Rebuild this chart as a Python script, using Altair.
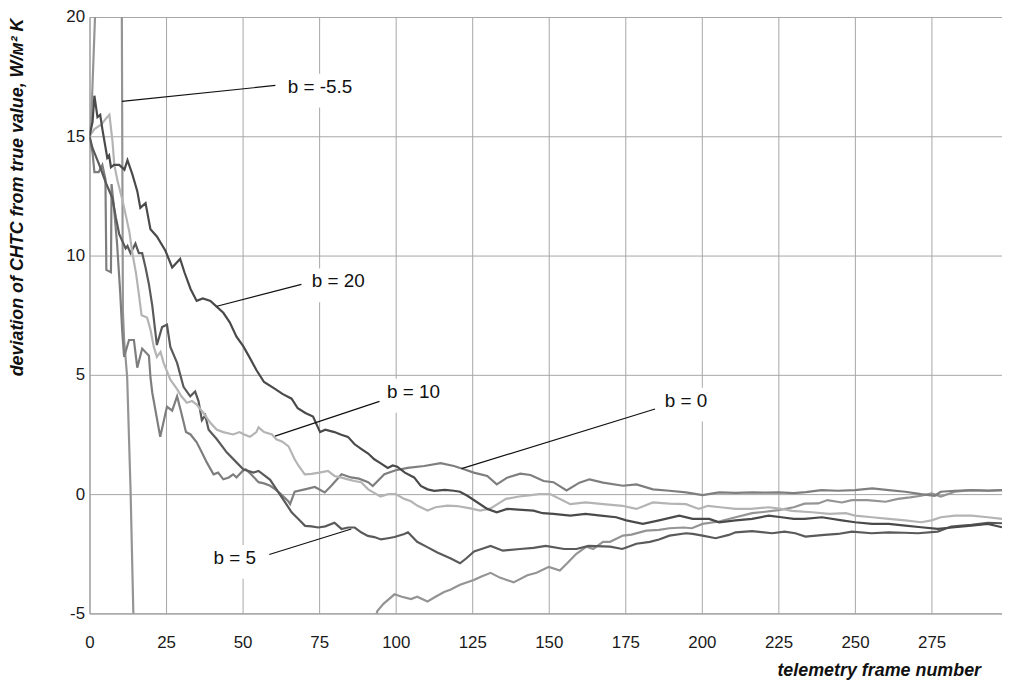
import altair as alt
import pandas as pd

# ---- data (x = telemetry frame, y = deviation) ----
B20_X = [0, 1, 1.6, 2.6, 3.5, 4.2, 5.8, 6.4, 7, 8, 9.7, 11.4, 12.4, 14, 15.6, 16.6, 18.3, 19.9, 22, 24.8,
         27, 29.6, 31, 33, 35, 37, 39.5, 41.6, 43.7, 45.8, 48, 50.2, 52.4, 54.5, 57, 60.7, 63, 66, 68, 70.5,
         73, 75.3, 77, 80, 82, 84.4, 86.5, 88.7, 91, 93, 95, 97.4, 99, 100.5, 103, 106, 108.2, 110.4, 112.6, 116,
         119, 121, 123.4, 126.6, 129.9, 133, 136.4, 140, 145, 148, 151.5, 157, 162, 167, 172, 175.3, 180.7, 186,
         192.6, 197, 202.4, 205.6, 211, 216.4, 221.8, 226, 230, 233.5, 239.2, 245.7, 250, 255.6, 261, 266.4,
         271.6, 277, 282.6, 288, 293.4, 298]
B20_Y = [15.0, 15.6, 16.7, 15.8, 15.9, 15.3, 14.1, 14.2, 13.7, 13.8, 13.8, 13.6, 14.0, 13.4, 12.7, 12.0, 12.2, 11.1, 10.8, 10.2,
         9.5, 9.86, 9.3, 8.6, 8.1, 8.2, 8.1, 7.85, 7.6, 7.2, 6.6, 6.2, 5.7, 5.2, 4.7, 4.4, 4.2, 4.0, 3.6, 3.4,
         3.25, 2.6, 2.7, 2.6, 2.5, 2.4, 2.1, 1.9, 1.7, 1.46, 1.3, 1.1, 1.2, 1.15, 0.9, 0.7, 0.34, 0.2, 0.14, 0.18,
         0.14, 0.1, -0.07, -0.34, -0.62, -0.76, -0.62, -0.65, -0.69, -0.8, -0.83, -0.9, -0.83, -0.9, -0.97, -1.1, -1.25, -1.1,
         -0.9, -1.04, -1.04, -1.18, -1.1, -1.04, -0.9, -0.97, -1.04, -1.04, -0.97, -1.1, -1.18, -1.25, -1.25, -1.32,
         -1.39, -1.46, -1.39, -1.32, -1.25, -1.39]

B10_X = [0, 1.6, 3.9, 5.4, 6.5, 7.5, 8.1, 9.2, 10.8, 12, 13, 14, 15.2, 16.2, 17, 18.8, 19.9, 21, 22, 23.2,
         24.2, 26.4, 28.6, 30, 31.8, 33.5, 35, 37.2, 39.4, 41.6, 43.7, 46.9, 49, 50.5, 52.4, 54.5, 55.2, 57, 59.6, 61,
         63, 65, 67, 68.2, 70.3, 72.5, 75, 77.9, 80, 82, 84.4, 86.5, 88.7, 91, 93, 95, 97.5, 100, 102.8, 105,
         107, 110.4, 113, 116.9, 120, 124.4, 127.6, 131, 133.5, 136, 140.3, 143.5, 146.8, 150.4, 154.8, 157, 162, 167.8, 174, 178.6,
         184, 189.4, 194.8, 199, 202, 206, 211, 216, 221.8, 226, 229.4, 236, 241.6, 247, 250, 255.6, 261, 266.4, 271.6, 275,
         278, 282.6, 288, 293.4, 298]
B10_Y = [15.0, 15.3, 15.5, 15.75, 15.9, 14.8, 13.8, 13.1, 12.3, 11.6, 11.0, 10.1, 9.25, 8.3, 7.5, 7.4, 6.9, 6.17, 5.75, 5.96,
         5.5, 4.8, 4.4, 4.1, 3.83, 3.9, 3.75, 3.4, 3.0, 2.7, 2.6, 2.5, 2.6, 2.5, 2.4, 2.6, 2.8, 2.6, 2.5, 2.3,
         2.2, 2.0, 1.46, 1.2, 0.83, 0.85, 0.9, 0.97, 0.76, 0.7, 0.62, 0.55, 0.5, 0.2, 0.05, -0.1, 0.0, 0.0, -0.2, -0.3,
         -0.48, -0.69, -0.55, -0.48, -0.5, -0.6, -0.69, -0.6, -0.4, -0.2, -0.1, -0.05, 0.0, 0.0, -0.28, -0.42, -0.35, -0.42, -0.49, -0.62,
         -0.35, -0.4, -0.42, -0.62, -0.49, -0.55, -0.62, -0.62, -0.55, -0.62, -0.7, -0.76, -0.83, -0.8, -0.9, -0.97, -1.04, -1.1, -1.18, -1.1,
         -0.97, -0.9, -0.9, -0.97, -1.04]

B5_X = [0, 1, 3.2, 5.5, 7.5, 8.6, 9.7, 11.8, 12.4, 13.4, 15, 16.1, 17.2, 18.3, 19.4, 20.5, 22, 23.7, 25.3, 26.4,
        28.6, 30.7, 32.9, 34.5, 35.6, 36.7, 37.8, 38.9, 41.6, 44.8, 48, 50.2, 53.5, 55.2, 57, 59, 61.7, 63.9, 66, 68.2,
        70.4, 72.5, 74.7, 77, 80, 82.3, 84.5, 86.6, 88.7, 90.9, 93, 95.2, 97.5, 99.6, 102.8, 104, 107, 110, 113.6, 118,
        121, 123, 125.6, 128, 131, 135, 140.6, 145, 149, 155, 159, 163, 170, 174, 178.6, 183, 186, 189.4, 194.8, 197,
        200.2, 204.5, 208.8, 211, 216.4, 222.9, 227, 230.5, 233.8, 240, 244.4, 249, 255.4, 261, 266, 270.6, 277, 281.4, 285, 288,
        293.4, 298]
B5_Y = [15.0, 14.5, 13.8, 13.0, 12.4, 11.6, 10.9, 10.3, 10.4, 10.1, 10.5, 10.1, 10.1, 9.5, 8.8, 7.9, 6.25, 7.0, 7.1, 6.17,
        5.5, 4.5, 4.1, 4.3, 3.9, 3.1, 3.3, 2.7, 2.3, 1.75, 1.33, 1.04, 0.9, 0.97, 0.8, 0.6, 0.07, -0.35, -0.76, -1.04,
        -1.33, -1.35, -1.4, -1.35, -1.2, -1.46, -1.4, -1.4, -1.6, -1.75, -1.8, -1.9, -1.85, -1.8, -1.67, -1.6, -2.0, -2.2, -2.45, -2.7,
        -2.9, -2.7, -2.4, -2.3, -2.17, -2.37, -2.3, -2.25, -2.17, -2.3, -2.3, -2.17, -2.2, -2.3, -2.08, -2.0, -1.9, -1.74, -1.64, -1.67,
        -1.74, -1.85, -1.71, -1.6, -1.55, -1.64, -1.57, -1.64, -1.78, -1.71, -1.67, -1.57, -1.64, -1.6, -1.62, -1.64, -1.57, -1.36, -1.32, -1.29,
        -1.2, -1.22]

B0_X = [0, 1, 1.6, 3, 4.2, 5.2, 5.5, 7, 7.2, 8, 9, 10, 10.7, 11.3, 12.9, 14.5, 15.6, 17.2, 19.4, 19.9,
        20.5, 23.1, 25.3, 27, 28.6, 30, 31.5, 33, 35, 36.5, 38.3, 40.5, 42, 43.7, 45.5, 46.9, 48, 50, 51, 53,
        55.2, 57, 59, 60.7, 62.5, 64.9, 65.5, 67, 70.3, 73.6, 76.8, 78.9, 82.3, 85.4, 88, 91, 92.5, 96.3, 100, 103.9,
        109.3, 114.7, 119, 122.3, 125.5, 129.9, 133, 136.4, 140.7, 144, 148.3, 151.5, 155.8, 160, 163.3, 167.7, 174.2, 178.6, 184, 189.4,
        194.8, 200.2, 205.6, 211, 216.4, 221, 225, 230, 234, 239, 244.4, 250, 255.6, 261, 266.4, 271.6, 276, 278, 282.6, 288,
        293.4, 298]
B0_Y = [15.0, 14.3, 13.5, 13.5, 13.8, 13.2, 9.4, 9.3, 13.0, 12.0, 10.5, 8.5, 6.8, 5.75, 6.46, 6.46, 5.3, 6.1, 5.8, 4.9,
        4.25, 2.4, 3.67, 3.5, 4.1, 3.4, 2.6, 2.5, 2.17, 1.8, 1.33, 0.83, 0.9, 0.62, 0.7, 0.83, 0.7, 0.97, 1.04, 0.8,
        0.5, 0.45, 0.35, 0.2, 0.0, -0.3, -0.42, 0.1, 0.2, 0.3, 0.07, 0.34, 0.83, 0.7, 0.65, 0.5, 0.34, 0.83, 1.0, 1.1,
        1.18, 1.3, 1.18, 1.04, 0.9, 0.76, 0.41, 0.69, 0.86, 0.8, 0.55, 0.5, 0.15, 0.48, 0.62, 0.48, 0.35, 0.41, 0.2, 0.14,
        0.07, -0.04, 0.07, 0.05, 0.07, 0.06, 0.07, 0.04, 0.08, 0.17, 0.14, 0.17, 0.24, 0.17, 0.1, 0.0, -0.07, 0.1, 0.14, 0.17,
        0.14, 0.17]

BM55_X = [0, 0.5, 1, 1.8, 2.5, 4, 6, 8, 10, 10.9, 11.3, 12.3, 13.4, 14.3, 15, 20, 40, 60, 80, 90,
          93.8, 94, 96, 99.6, 102, 105, 107, 110.4, 113, 115.8, 118, 121, 125.5, 128, 131, 134, 138.5, 143, 146, 150,
          153.6, 156, 159, 162.3, 164.5, 167.7, 170, 174.2, 177, 181.8, 186, 189.4, 194, 196.7, 200.2, 205.6, 210, 216.4, 220, 225,
          230, 233.5, 238, 241, 245.7, 249, 254, 260, 264, 268, 271.6, 275, 278, 282.6, 288, 293.4, 298]
BM55_Y = [15.0, 15.5, 17.2, 20.0, 24.0, 30.0, 35.0, 38.0, 40.0, 7.7, 6.46, 4.9, 0.2, -4.9, -8.0, -15.0, -18.0, -14.0, -9.0, -6.5,
          -5.0, -4.9, -4.6, -4.2, -4.3, -4.4, -4.3, -4.5, -4.3, -4.1, -4.0, -3.8, -3.6, -3.45, -3.3, -3.5, -3.7, -3.4, -3.3, -3.05,
          -3.2, -2.9, -2.5, -2.2, -2.3, -2.0, -2.0, -1.74, -1.7, -1.53, -1.5, -1.43, -1.4, -1.43, -1.25, -1.15, -1.0, -0.8, -0.75, -0.67,
          -0.55, -0.4, -0.39, -0.25, -0.35, -0.25, -0.25, -0.32, -0.2, -0.14, -0.07, 0.03, -0.1, 0.1, 0.17, 0.15, 0.17]

SERIES = ["b = -5.5", "b = 0", "b = 5", "b = 10", "b = 20"]
COLORS = ["#949494", "#7e7e7e", "#5a5a5a", "#b4b4b4", "#4a4a4a"]

X_TICKS = [0, 25, 50, 75, 100, 125, 150, 175, 200, 225, 250, 275]
Y_TICKS = [-5, 0, 5, 10, 15, 20]

# annotation labels (data coordinates) and leader lines
LABELS = ["b = -5.5", "b = 20", "b = 10", "b = 0", "b = 5"]
LABEL_X = [75.3, 81.2, 105.8, 194.8, 47.4]
LABEL_Y = [17.08, 8.92, 4.29, 3.92, -2.67]
LEAD_X1 = [10.6, 41.6, 60.6, 121.5, 58.7]
LEAD_Y1 = [16.46, 7.875, 2.43, 1.07, -2.53]
LEAD_X2 = [60.7, 69.2, 94.7, 184.7, 85.5]
LEAD_Y2 = [17.13, 8.79, 3.89, 3.57, -1.46]

# ---- build tables ----
rows = []
for name, xs, ys in [("b = -5.5", BM55_X, BM55_Y), ("b = 0", B0_X, B0_Y), ("b = 5", B5_X, B5_Y),
                     ("b = 10", B10_X, B10_Y), ("b = 20", B20_X, B20_Y)]:
    for i, (xv, yv) in enumerate(zip(xs, ys)):
        rows.append({"series": name, "x": xv, "y": yv, "i": i})
df = pd.DataFrame(rows)

W, H = 918, 600
XMAX = 298
px_x = W / XMAX
px_y = H / 25.0
box_w_px = [80, 64, 64, 54, 54]
box_h_px = 34
ann = pd.DataFrame({
    "label": LABELS, "x": LABEL_X, "y": LABEL_Y,
    "bx1": [cx - w / 2 / px_x for cx, w in zip(LABEL_X, box_w_px)],
    "bx2": [cx + w / 2 / px_x for cx, w in zip(LABEL_X, box_w_px)],
    "by1": [cy - (box_h_px / 2 + 4) / px_y for cy in LABEL_Y],
    "by2": [cy + (box_h_px / 2 - 4) / px_y for cy in LABEL_Y],
})
leads = pd.DataFrame({"x1": LEAD_X1, "y1": LEAD_Y1, "x2": LEAD_X2, "y2": LEAD_Y2})

FONT = "Liberation Sans"
xscale = alt.Scale(domain=[0, XMAX], nice=False, zero=False)
yscale = alt.Scale(domain=[-5, 20], nice=False, zero=False)

x_axis = alt.Axis(values=X_TICKS, title="telemetry frame number", grid=True, ticks=False, tickSize=0,
                  labelPadding=21, labelFontSize=17, labelFont=FONT, labelColor="#1a1a1a",
                  labelExpr="'' + datum.value",
                  titleFont=FONT, titleFontSize=18, titleFontWeight="bold", titleFontStyle="italic",
                  titleColor="#111", titleX=794, titleY=57, titleAlign="center", titleBaseline="middle",
                  domainColor="#a0a0a0", gridColor="#a6a6a6", gridWidth=1, labelFlush=False)
y_axis = alt.Axis(values=Y_TICKS, title="deviation of CHTC from true value, W/м² K", grid=True, ticks=False,
                  tickSize=0, labelPadding=5, labelFontSize=17, labelFont=FONT, labelColor="#1a1a1a",
                  labelExpr="'' + datum.value",
                  titleFont=FONT, titleFontSize=18, titleFontWeight="bold", titleFontStyle="italic",
                  titleColor="#111", titleX=-72, titleY=181, titleAlign="center", titleBaseline="middle",
                  titleAngle=270, domainColor="#a0a0a0", gridColor="#a6a6a6", gridWidth=1, labelFlush=False)

lines = alt.Chart(df).mark_line(clip=True, strokeWidth=2.2).encode(
    x=alt.X("x:Q", scale=xscale, axis=x_axis),
    y=alt.Y("y:Q", scale=yscale, axis=y_axis),
    color=alt.Color("series:N", scale=alt.Scale(domain=SERIES, range=COLORS), legend=None),
    order=alt.Order("i:Q"),
)

boxes = alt.Chart(ann).mark_rect(color="white").encode(
    x=alt.X("bx1:Q", scale=xscale), x2="bx2:Q",
    y=alt.Y("by1:Q", scale=yscale), y2="by2:Q",
)

leaders = alt.Chart(leads).mark_rule(color="#111", strokeWidth=1.2).encode(
    x=alt.X("x1:Q", scale=xscale), y=alt.Y("y1:Q", scale=yscale),
    x2="x2:Q", y2="y2:Q",
)

texts = alt.Chart(ann).mark_text(font=FONT, fontSize=19, color="#111", align="center",
                                 baseline="middle").encode(
    x=alt.X("x:Q", scale=xscale), y=alt.Y("y:Q", scale=yscale), text="label:N",
)

chart = alt.layer(lines, boxes, leaders, texts).properties(
    width=W, height=H,
    padding={"left": 82, "top": 7, "right": 0, "bottom": 72},
    autosize="none",
).configure_view(stroke=None).configure(background="white")

chart.save("out.html", embed_options={"renderer": "svg", "actions": False})
